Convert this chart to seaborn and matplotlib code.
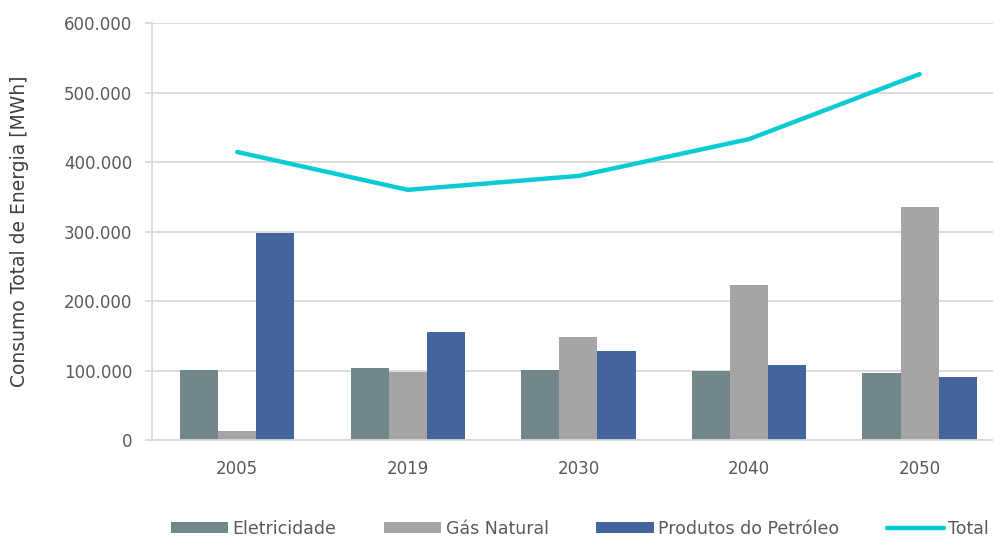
import numpy as np
import pandas as pd
import matplotlib
matplotlib.use("Agg")
import matplotlib.pyplot as plt
from matplotlib.ticker import FuncFormatter
from matplotlib.patches import Patch
from matplotlib.lines import Line2D
import seaborn as sns

anos = ["2005", "2019", "2030", "2040", "2050"]
eletricidade = [101000, 104000, 101500, 99000, 96500]
gas_natural = [13000, 98000, 148000, 223000, 335500]
petroleo = [298500, 155500, 128000, 108000, 91000]
total = [414500, 360000, 380000, 433000, 526500]

series = ["Eletricidade", "Gás Natural", "Produtos do Petróleo"]
cores = ["#71878A", "#A5A5A5", "#43649C"]
cor_total = "#0ACBD3"

df = pd.DataFrame({
    "ano": anos * 3,
    "serie": [s for s in series for _ in anos],
    "valor": eletricidade + gas_natural + petroleo,
})

sns.set_theme(style="white")
plt.rcParams["font.family"] = ["DejaVu Sans"]

fig = plt.figure(figsize=(9.93, 5.36), dpi=100)
ax = fig.add_axes([0.153, 0.179, 0.847, 0.778])

sns.barplot(data=df, x="ano", y="valor", hue="serie", palette=cores,
            width=0.67, gap=0, saturation=1, ax=ax, legend=False,
            edgecolor="none")
sns.lineplot(x=np.arange(len(anos)), y=total, color=cor_total, linewidth=3.2,
             ax=ax, legend=False, zorder=5)

ax.set_ylim(0, 600000)
ax.set_xlim(-0.5, 4.43)
ax.set_yticks(np.arange(0, 600001, 100000))
ax.yaxis.set_major_formatter(FuncFormatter(lambda v, p: f"{int(v):,}".replace(",", ".")))
ax.yaxis.grid(True, color="#D9D9D9", linewidth=1.3)
ax.set_axisbelow(True)

for s in ["top", "right"]:
    ax.spines[s].set_visible(False)
ax.spines["left"].set_color("#D9D9D9")
ax.spines["bottom"].set_color("#D9D9D9")
ax.spines["left"].set_linewidth(1.3)
ax.spines["bottom"].set_linewidth(1.3)

ax.tick_params(axis="y", left=True, length=5, width=1.3, color="#D9D9D9",
               labelsize=12, labelcolor="#595959", pad=9)
ax.tick_params(axis="x", bottom=False, labelsize=12, labelcolor="#595959", pad=8)
ax.set_xlabel("")
ax.set_ylabel("Consumo Total de Energia [MWh]", fontsize=13.5, color="#404040")
ax.yaxis.set_label_coords(-0.146, 0.5)

handles = [Patch(facecolor=c, edgecolor="none") for c in cores]
handles.append(Line2D([0], [0], color=cor_total, linewidth=3.2))
fig.legend(handles, series + ["Total"], loc="lower center", ncol=4,
           bbox_to_anchor=(0.584, -0.032), frameon=False, fontsize=12.5,
           labelcolor="#595959", handlelength=3.3, handleheight=0.55,
           handletextpad=0.25, columnspacing=2.75)

fig.savefig("out.png", dpi=100)
